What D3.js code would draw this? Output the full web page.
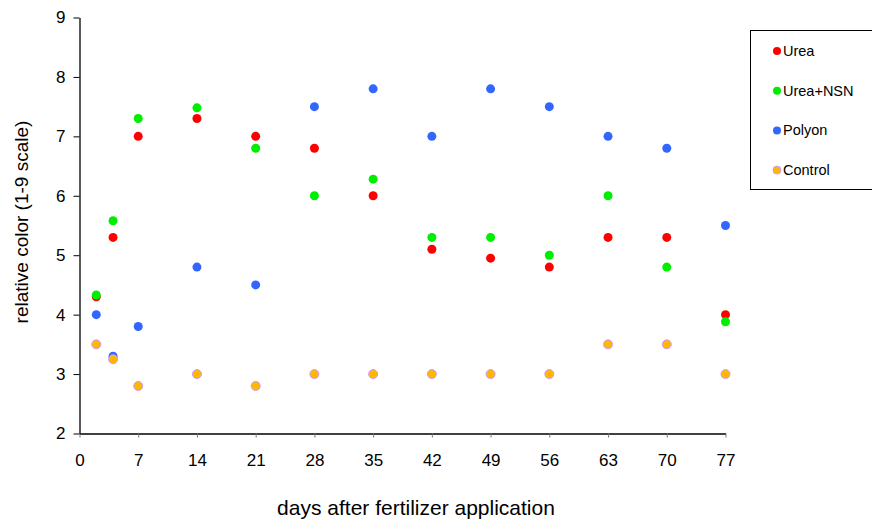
<!DOCTYPE html>
<html><head><meta charset="utf-8">
<script src="https://cdn.jsdelivr.net/npm/d3@7"></script>
<style>body{margin:0;background:#fff}svg{display:block}text{font-family:"Liberation Sans",Arial,sans-serif;fill:#000}</style>
</head><body><svg id="c" width="872" height="519"></svg>
<script>
const days = [2,4,7,14,21,28,35,42,49,56,63,70,77];
const urea = [4.3,5.3,7.0,7.3,7.0,6.8,6.0,5.1,4.95,4.8,5.3,5.3,4.0];
const ureaNSN = [4.33,5.58,7.3,7.48,6.8,6.0,6.28,5.3,5.3,5.0,6.0,4.8,3.88];
const polyon = [4.0,3.3,3.8,4.8,4.5,7.5,7.8,7.0,7.8,7.5,7.0,6.8,5.5];
const control = [3.5,3.25,2.8,3.0,2.8,3.0,3.0,3.0,3.0,3.0,3.5,3.5,3.0];
const xTicks = [0,7,14,21,28,35,42,49,56,63,70,77];
const yTicks = [2,3,4,5,6,7,8,9];
const seriesNames = ["Urea","Urea+NSN","Polyon","Control"];

const series = [
  {name:seriesNames[0], values:urea, fill:"#FF0000", stroke:"none"},
  {name:seriesNames[1], values:ureaNSN, fill:"#00EE00", stroke:"none"},
  {name:seriesNames[2], values:polyon, fill:"#3366FF", stroke:"none"},
  {name:seriesNames[3], values:control, fill:"#FFB800", stroke:"#CC99FF"}
];

const svg = d3.select("#c");
const x = d3.scaleLinear().domain([0,77]).range([79.5,725.5]);
const y = d3.scaleLinear().domain([2,9]).range([433.5,17.5]);
const fmt = d3.format("d");
const narrow = "'Liberation Sans Narrow','Arial Narrow',sans-serif";

const xAxis = svg.append("g").attr("transform","translate(0,433.5)")
  .call(d3.axisBottom(x).tickValues(xTicks).tickFormat(fmt).tickSize(4).tickSizeOuter(0).tickPadding(16));
const yAxis = svg.append("g").attr("transform","translate(79.5,0)")
  .call(d3.axisLeft(y).tickValues(yTicks).tickFormat(fmt).tickSize(6).tickSizeOuter(0).tickPadding(8));
[xAxis,yAxis].forEach(a=>{
  a.selectAll("path").attr("stroke","#000").attr("stroke-width",1.3);
  a.selectAll("line").attr("stroke","#000");
  a.selectAll("text").style("font-size","17px").style("font-family",narrow);
});
xAxis.selectAll(".tick line").attr("stroke","#777");

series.forEach(s=>{
  svg.append("g").selectAll("circle").data(days.map((d,i)=>({d, v:s.values[i]})))
    .join("circle").attr("cx",p=>x(p.d)).attr("cy",p=>y(p.v)).attr("r",4.5)
    .attr("fill",s.fill).attr("stroke",s.stroke).attr("stroke-width",1);
});

svg.append("text").attr("x",416).attr("y",515).attr("text-anchor","middle")
  .style("font-size","21px").text("days after fertilizer application");
svg.append("text").attr("transform","translate(28,222) rotate(-90)").attr("text-anchor","middle")
  .style("font-size","19px").text("relative color (1-9 scale)");

const lg = svg.append("g");
lg.append("rect").attr("x",750.5).attr("y",30.5).attr("width",130).attr("height",159)
  .attr("fill","#fff").attr("stroke","#000").attr("stroke-width",1);
series.forEach((s,i)=>{
  const cy = 51 + i*39.7;
  lg.append("circle").attr("cx",777).attr("cy",cy).attr("r",4).attr("fill",s.fill).attr("stroke",s.stroke);
  lg.append("text").attr("x",783).attr("y",cy+5).style("font-size","14.5px").text(s.name);
});
</script></body></html>
